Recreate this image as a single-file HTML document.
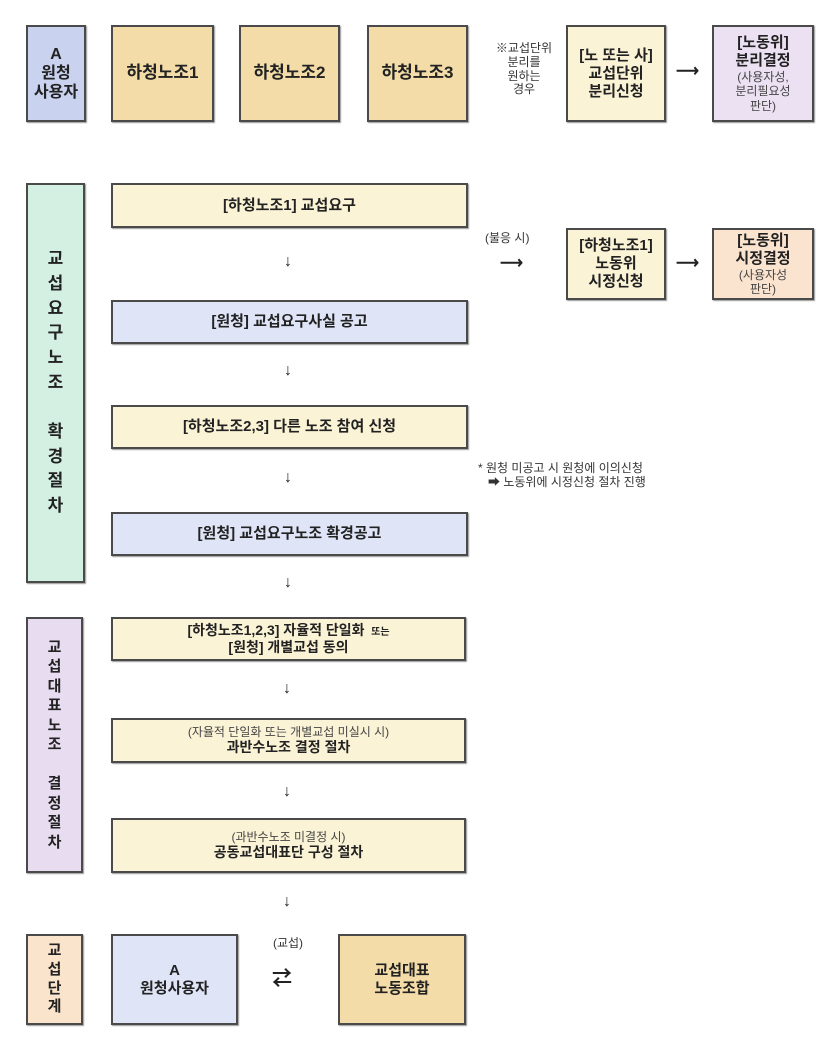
<!DOCTYPE html>
<html><head><meta charset="utf-8"><style>
body{margin:0;width:830px;height:1040px;background:#fff;position:relative;font-family:"Liberation Sans","Noto Sans CJK KR","NanumGothic",sans-serif;color:#222;overflow:hidden}
.b{position:absolute;box-sizing:border-box;border:2px solid #4a4a4a;display:flex;align-items:center;justify-content:center;text-align:center;font-weight:bold;line-height:1.2;box-shadow:1px 1px 1px #999}
.t{position:absolute;text-align:center;line-height:1.15;color:#333}
.g{background:#f3dca8}.y{background:#fbf3d6}.bl{background:#dfe5f7}.pu{background:#ece0f3}.pe{background:#fbe4cf}
.s{font-size:12px;font-weight:normal;color:#444}
.arr{position:absolute;font-size:16px;font-weight:bold}
.v{flex-direction:column;font-size:17px;line-height:1.45}
</style></head><body>
<div class="b" style="left:26px;top:25px;width:60px;height:97px;background:#c9d2ef;font-size:16px">A<br>원청<br>사용자</div>
<div class="b g" style="left:111px;top:25px;width:103px;height:97px;font-size:17px">하청노조1</div>
<div class="b g" style="left:239px;top:25px;width:101px;height:97px;font-size:17px">하청노조2</div>
<div class="b g" style="left:367px;top:25px;width:101px;height:97px;font-size:17px">하청노조3</div>
<div class="t" style="left:484px;top:42px;width:80px;font-size:12px">※교섭단위<br>분리를<br>원하는<br>경우</div>
<div class="b y" style="left:566px;top:25px;width:100px;height:97px;font-size:15px">[노 또는 사]<br>교섭단위<br>분리신청</div>
<div class="arr" style="left:676px;top:61px">⟶</div>
<div class="b pu" style="left:712px;top:25px;width:102px;height:97px;font-size:15px;flex-direction:column">[노동위]<br>분리결정<span class="s">(사용자성,<br>분리필요성<br>판단)</span></div>

<div class="b v" style="left:26px;top:183px;width:59px;height:400px;background:#d4f0e3">교<br>섭<br>요<br>구<br>노<br>조<br><br>확<br>경<br>절<br>차</div>
<div class="b y" style="left:111px;top:183px;width:357px;height:45px;font-size:15px">[하청노조1] 교섭요구</div>
<div class="arr" style="left:284px;top:253px">↓</div>
<div class="b bl" style="left:111px;top:300px;width:357px;height:44px;font-size:15px">[원청] 교섭요구사실 공고</div>
<div class="arr" style="left:284px;top:362px">↓</div>
<div class="b y" style="left:111px;top:405px;width:357px;height:44px;font-size:15px">[하청노조2,3] 다른 노조 참여 신청</div>
<div class="arr" style="left:284px;top:469px">↓</div>
<div class="b bl" style="left:111px;top:512px;width:357px;height:44px;font-size:15px">[원청] 교섭요구노조 확경공고</div>
<div class="arr" style="left:284px;top:574px">↓</div>
<div class="t" style="left:478px;top:462px;font-size:12px;text-align:left">* 원청 미공고 시 원청에 이의신청<br>&nbsp;&nbsp;&nbsp;➡ 노동위에 시정신청 절차 진행</div>
<div class="t" style="left:485px;top:232px;font-size:12px">(불응 시)</div>
<div class="arr" style="left:500px;top:253px">⟶</div>
<div class="b y" style="left:566px;top:228px;width:100px;height:72px;font-size:15px">[하청노조1]<br>노동위<br>시정신청</div>
<div class="arr" style="left:676px;top:253px">⟶</div>
<div class="b pe" style="left:712px;top:228px;width:102px;height:72px;font-size:15px;flex-direction:column">[노동위]<br>시정결정<span class="s">(사용자성<br>판단)</span></div>

<div class="b v" style="left:26px;top:617px;width:57px;height:256px;background:#e8dcf1;font-size:15px;line-height:1.3">교<br>섭<br>대<br>표<br>노<br>조<br><br>결<br>정<br>절<br>차</div>
<div class="b y" style="left:111px;top:617px;width:355px;height:44px;font-size:14px"><div>[하청노조1,2,3] 자율적 단일화 <span style="font-size:10px">&nbsp;또는</span><br>[원청] 개별교섭 동의</div></div>
<div class="arr" style="left:283px;top:680px">↓</div>
<div class="b y" style="left:111px;top:718px;width:355px;height:45px;font-size:14px;flex-direction:column"><span class="s">(자율적 단일화 또는 개별교섭 미실시 시)</span>과반수노조 결정 절차</div>
<div class="arr" style="left:283px;top:783px">↓</div>
<div class="b y" style="left:111px;top:818px;width:355px;height:55px;font-size:14px;flex-direction:column"><span class="s">(과반수노조 미결정 시)</span>공동교섭대표단 구성 절차</div>
<div class="arr" style="left:283px;top:893px">↓</div>

<div class="b v" style="left:26px;top:934px;width:57px;height:91px;background:#fbe4cc;font-size:15px;line-height:1.25">교<br>섭<br>단<br>계</div>
<div class="b bl" style="left:111px;top:934px;width:127px;height:91px;font-size:15px">A<br>원청사용자</div>
<div class="t" style="left:268px;top:937px;width:40px;font-size:12px">(교섭)</div>
<div class="arr" style="left:272px;top:962px;font-size:20px">⇄</div>
<div class="b g" style="left:338px;top:934px;width:128px;height:91px;font-size:15px">교섭대표<br>노동조합</div>
</body></html>
